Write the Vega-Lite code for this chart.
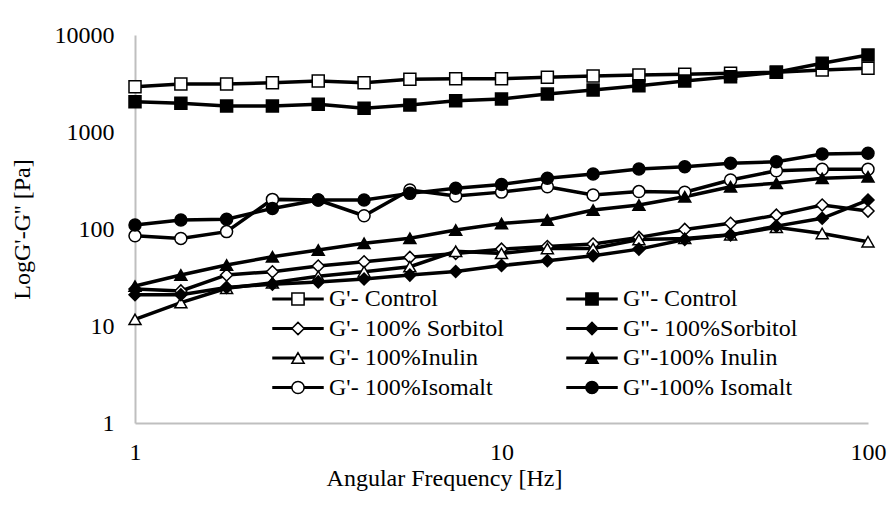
{
  "$schema": "https://vega.github.io/schema/vega-lite/v6.json",
  "width": 733,
  "height": 388,
  "autosize": {"type": "none"},
  "padding": {"left": 135, "top": 35, "right": 25, "bottom": 92},
  "background": "white",
  "config": {
    "view": {"stroke": null},
    "font": "Liberation Serif",
    "axis": {
      "domainColor": "#bfbfbf",
      "domainWidth": 2,
      "ticks": false,
      "grid": false,
      "labelFont": "Liberation Serif",
      "labelFontSize": 24,
      "labelColor": "black",
      "labelFlush": false,
      "labelOverlap": false,
      "labelBound": false,
      "titleFont": "Liberation Serif",
      "titleFontSize": 24,
      "titleFontWeight": "normal",
      "titleColor": "black"
    },
    "legend": {
      "labelFont": "Liberation Serif",
      "labelFontSize": 24,
      "labelColor": "black",
      "labelLimit": 500,
      "padding": 0
    }
  },
  "data": {
    "values": [
      {"f":1,"s":"G'- Control","m":"p","v":2930},{"f":1.334,"s":"G'- Control","m":"p","v":3125},{"f":1.778,"s":"G'- Control","m":"p","v":3125},{"f":2.371,"s":"G'- Control","m":"p","v":3225},{"f":3.162,"s":"G'- Control","m":"p","v":3355},{"f":4.217,"s":"G'- Control","m":"p","v":3225},{"f":5.623,"s":"G'- Control","m":"p","v":3495},{"f":7.499,"s":"G'- Control","m":"p","v":3545},{"f":10,"s":"G'- Control","m":"p","v":3545},{"f":13.34,"s":"G'- Control","m":"p","v":3660},{"f":17.78,"s":"G'- Control","m":"p","v":3780},{"f":23.71,"s":"G'- Control","m":"p","v":3870},{"f":31.62,"s":"G'- Control","m":"p","v":3935},{"f":42.17,"s":"G'- Control","m":"p","v":4030},{"f":56.23,"s":"G'- Control","m":"p","v":4130},{"f":74.99,"s":"G'- Control","m":"p","v":4355},{"f":100,"s":"G'- Control","m":"p","v":4540},
      {"f":1,"s":"G\"- Control","m":"pp","v":2052},{"f":1.334,"s":"G\"- Control","m":"pp","v":1977},{"f":1.778,"s":"G\"- Control","m":"pp","v":1854},{"f":2.371,"s":"G\"- Control","m":"pp","v":1854},{"f":3.162,"s":"G\"- Control","m":"pp","v":1931},{"f":4.217,"s":"G\"- Control","m":"pp","v":1755},{"f":5.623,"s":"G\"- Control","m":"pp","v":1898},{"f":7.499,"s":"G\"- Control","m":"pp","v":2103},{"f":10,"s":"G\"- Control","m":"pp","v":2189},{"f":13.34,"s":"G\"- Control","m":"pp","v":2465},{"f":17.78,"s":"G\"- Control","m":"pp","v":2710},{"f":23.71,"s":"G\"- Control","m":"pp","v":3000},{"f":31.62,"s":"G\"- Control","m":"pp","v":3355},{"f":42.17,"s":"G\"- Control","m":"pp","v":3715},{"f":56.23,"s":"G\"- Control","m":"pp","v":4130},{"f":74.99,"s":"G\"- Control","m":"pp","v":5110},{"f":100,"s":"G\"- Control","m":"pp","v":6220},
      {"f":1,"s":"G'- 100% Sorbitol","m":"p","v":24},{"f":1.334,"s":"G'- 100% Sorbitol","m":"p","v":23},{"f":1.778,"s":"G'- 100% Sorbitol","m":"p","v":33.6},{"f":2.371,"s":"G'- 100% Sorbitol","m":"p","v":36.3},{"f":3.162,"s":"G'- 100% Sorbitol","m":"p","v":41.5},{"f":4.217,"s":"G'- 100% Sorbitol","m":"p","v":46},{"f":5.623,"s":"G'- 100% Sorbitol","m":"p","v":51},{"f":7.499,"s":"G'- 100% Sorbitol","m":"p","v":56},{"f":10,"s":"G'- 100% Sorbitol","m":"p","v":62},{"f":13.34,"s":"G'- 100% Sorbitol","m":"p","v":66},{"f":17.78,"s":"G'- 100% Sorbitol","m":"p","v":70},{"f":23.71,"s":"G'- 100% Sorbitol","m":"p","v":82},{"f":31.62,"s":"G'- 100% Sorbitol","m":"p","v":99},{"f":42.17,"s":"G'- 100% Sorbitol","m":"p","v":114.5},{"f":56.23,"s":"G'- 100% Sorbitol","m":"p","v":139},{"f":74.99,"s":"G'- 100% Sorbitol","m":"p","v":177},{"f":100,"s":"G'- 100% Sorbitol","m":"p","v":153},
      {"f":1,"s":"G\"-  100%Sorbitol","m":"pp","v":21},{"f":1.334,"s":"G\"-  100%Sorbitol","m":"pp","v":21},{"f":1.778,"s":"G\"-  100%Sorbitol","m":"pp","v":25},{"f":2.371,"s":"G\"-  100%Sorbitol","m":"pp","v":27},{"f":3.162,"s":"G\"-  100%Sorbitol","m":"pp","v":28.5},{"f":4.217,"s":"G\"-  100%Sorbitol","m":"pp","v":30.5},{"f":5.623,"s":"G\"-  100%Sorbitol","m":"pp","v":33.5},{"f":7.499,"s":"G\"-  100%Sorbitol","m":"pp","v":36.5},{"f":10,"s":"G\"-  100%Sorbitol","m":"pp","v":42},{"f":13.34,"s":"G\"-  100%Sorbitol","m":"pp","v":47},{"f":17.78,"s":"G\"-  100%Sorbitol","m":"pp","v":53},{"f":23.71,"s":"G\"-  100%Sorbitol","m":"pp","v":62},{"f":31.62,"s":"G\"-  100%Sorbitol","m":"pp","v":78},{"f":42.17,"s":"G\"-  100%Sorbitol","m":"pp","v":87},{"f":56.23,"s":"G\"-  100%Sorbitol","m":"pp","v":107},{"f":74.99,"s":"G\"-  100%Sorbitol","m":"pp","v":129},{"f":100,"s":"G\"-  100%Sorbitol","m":"pp","v":199},
      {"f":1,"s":"G'-  100%Inulin","m":"p","v":11.7},{"f":1.334,"s":"G'-  100%Inulin","m":"p","v":17.4},{"f":1.778,"s":"G'-  100%Inulin","m":"p","v":24.5},{"f":2.371,"s":"G'-  100%Inulin","m":"p","v":27.9},{"f":3.162,"s":"G'-  100%Inulin","m":"p","v":32.6},{"f":4.217,"s":"G'-  100%Inulin","m":"p","v":36.3},{"f":5.623,"s":"G'-  100%Inulin","m":"p","v":40.9},{"f":7.499,"s":"G'-  100%Inulin","m":"p","v":59},{"f":10,"s":"G'-  100%Inulin","m":"p","v":56},{"f":13.34,"s":"G'-  100%Inulin","m":"p","v":63},{"f":17.78,"s":"G'-  100%Inulin","m":"p","v":63},{"f":23.71,"s":"G'-  100%Inulin","m":"p","v":78},{"f":31.62,"s":"G'-  100%Inulin","m":"p","v":80},{"f":42.17,"s":"G'-  100%Inulin","m":"p","v":87},{"f":56.23,"s":"G'-  100%Inulin","m":"p","v":104},{"f":74.99,"s":"G'-  100%Inulin","m":"p","v":90},{"f":100,"s":"G'-  100%Inulin","m":"p","v":74},
      {"f":1,"s":"G\"-100% Inulin","m":"pp","v":25.8},{"f":1.334,"s":"G\"-100% Inulin","m":"pp","v":33.6},{"f":1.778,"s":"G\"-100% Inulin","m":"pp","v":42.5},{"f":2.371,"s":"G\"-100% Inulin","m":"pp","v":51.8},{"f":3.162,"s":"G\"-100% Inulin","m":"pp","v":60.8},{"f":4.217,"s":"G\"-100% Inulin","m":"pp","v":71.3},{"f":5.623,"s":"G\"-100% Inulin","m":"pp","v":80.2},{"f":7.499,"s":"G\"-100% Inulin","m":"pp","v":97.7},{"f":10,"s":"G\"-100% Inulin","m":"pp","v":114},{"f":13.34,"s":"G\"-100% Inulin","m":"pp","v":124},{"f":17.78,"s":"G\"-100% Inulin","m":"pp","v":157},{"f":23.71,"s":"G\"-100% Inulin","m":"pp","v":177},{"f":31.62,"s":"G\"-100% Inulin","m":"pp","v":215},{"f":42.17,"s":"G\"-100% Inulin","m":"pp","v":273},{"f":56.23,"s":"G\"-100% Inulin","m":"pp","v":296},{"f":74.99,"s":"G\"-100% Inulin","m":"pp","v":333},{"f":100,"s":"G\"-100% Inulin","m":"pp","v":346},
      {"f":1,"s":"G'-  100%Isomalt","m":"p","v":85},{"f":1.334,"s":"G'-  100%Isomalt","m":"p","v":80},{"f":1.778,"s":"G'-  100%Isomalt","m":"p","v":94},{"f":2.371,"s":"G'-  100%Isomalt","m":"p","v":202},{"f":3.162,"s":"G'-  100%Isomalt","m":"p","v":199},{"f":4.217,"s":"G'-  100%Isomalt","m":"p","v":137},{"f":5.623,"s":"G'-  100%Isomalt","m":"p","v":252},{"f":7.499,"s":"G'-  100%Isomalt","m":"p","v":219},{"f":10,"s":"G'-  100%Isomalt","m":"p","v":240},{"f":13.34,"s":"G'-  100%Isomalt","m":"p","v":273},{"f":17.78,"s":"G'-  100%Isomalt","m":"p","v":224},{"f":23.71,"s":"G'-  100%Isomalt","m":"p","v":243},{"f":31.62,"s":"G'-  100%Isomalt","m":"p","v":239},{"f":42.17,"s":"G'-  100%Isomalt","m":"p","v":320},{"f":56.23,"s":"G'-  100%Isomalt","m":"p","v":399},{"f":74.99,"s":"G'-  100%Isomalt","m":"p","v":413},{"f":100,"s":"G'-  100%Isomalt","m":"p","v":413},
      {"f":1,"s":"G\"-100% Isomalt","m":"pp","v":110},{"f":1.334,"s":"G\"-100% Isomalt","m":"pp","v":124},{"f":1.778,"s":"G\"-100% Isomalt","m":"pp","v":126},{"f":2.371,"s":"G\"-100% Isomalt","m":"pp","v":163},{"f":3.162,"s":"G\"-100% Isomalt","m":"pp","v":199},{"f":4.217,"s":"G\"-100% Isomalt","m":"pp","v":199},{"f":5.623,"s":"G\"-100% Isomalt","m":"pp","v":233},{"f":7.499,"s":"G\"-100% Isomalt","m":"pp","v":263},{"f":10,"s":"G\"-100% Isomalt","m":"pp","v":288},{"f":13.34,"s":"G\"-100% Isomalt","m":"pp","v":333},{"f":17.78,"s":"G\"-100% Isomalt","m":"pp","v":369},{"f":23.71,"s":"G\"-100% Isomalt","m":"pp","v":415},{"f":31.62,"s":"G\"-100% Isomalt","m":"pp","v":439},{"f":42.17,"s":"G\"-100% Isomalt","m":"pp","v":476},{"f":56.23,"s":"G\"-100% Isomalt","m":"pp","v":494},{"f":74.99,"s":"G\"-100% Isomalt","m":"pp","v":593},{"f":100,"s":"G\"-100% Isomalt","m":"pp","v":603}
    ]
  },
  "encoding": {
    "x": {
      "field": "f",
      "type": "quantitative",
      "scale": {"type": "log", "domain": [1, 100], "nice": false},
      "axis": {
        "values": [1, 10, 100],
        "format": "d",
        "title": "Angular Frequency [Hz]",
        "labelPadding": 17,
        "titlePadding": 2,
        "titleX": 309
      }
    },
    "y": {
      "field": "v",
      "type": "quantitative",
      "scale": {"type": "log", "domain": [1, 10000], "nice": false},
      "axis": {
        "values": [1, 10, 100, 1000, 10000],
        "format": "d",
        "title": "LogG'-G'' [Pa]",
        "labelPadding": 21,
        "titlePadding": 20
      }
    }
  },
  "layer": [
    {
      "mark": {"type": "line", "color": "black", "strokeWidth": 3.5},
      "encoding": {"detail": {"field": "s", "type": "nominal"}}
    },
    {
      "transform": [{"filter": {"field": "m", "equal": "p"}}],
      "mark": {"type": "point", "filled": true, "fill": "white", "stroke": "black", "strokeWidth": 1.5, "size": 144, "opacity": 1},
      "encoding": {
        "shape": {
          "field": "s",
          "type": "nominal",
          "scale": {
            "domain": ["G'- Control", "G'- 100% Sorbitol", "G'-  100%Inulin", "G'-  100%Isomalt"],
            "range": ["square", "diamond", "triangle-up", "circle"]
          },
          "legend": null
        }
      }
    },
    {
      "transform": [{"filter": {"field": "m", "equal": "pp"}}],
      "mark": {"type": "point", "filled": true, "fill": "black", "stroke": "black", "strokeWidth": 1.5, "size": 144, "opacity": 1},
      "encoding": {
        "shape": {
          "field": "s",
          "type": "nominal",
          "scale": {
            "domain": ["G\"- Control", "G\"-  100%Sorbitol", "G\"-100% Inulin", "G\"-100% Isomalt"],
            "range": ["square", "diamond", "triangle-up", "circle"]
          },
          "legend": null
        }
      }
    },
    {
      "transform": [{"filter": {"field": "m", "equal": "p"}}],
      "mark": {"type": "point", "filled": true, "fill": "white", "stroke": "black", "strokeWidth": 1.5, "size": 144, "opacity": 0},
      "encoding": {
        "shape": {
          "field": "s",
          "type": "nominal",
          "scale": {
            "domain": ["G'- Control", "G'- 100% Sorbitol", "G'-  100%Inulin", "G'-  100%Isomalt"],
            "range": [
              "M-4.08,-0.13H-1V0.13H-4.08ZM1,-0.13H4.08V0.13H1ZM-1,-1H1V1H-1Z",
              "M-4.08,-0.13H-1V0.13H-4.08ZM1,-0.13H4.08V0.13H1ZM-1,0L0,-1L1,0L0,1Z",
              "M-4.08,-0.13H-0.55V0.13H-4.08ZM0.55,-0.13H4.08V0.13H0.55ZM0,-0.866L-1,0.866L1,0.866Z",
              "M-4.08,-0.13H-1V0.13H-4.08ZM1,-0.13H4.08V0.13H1ZM-1,0A1,1,0,1,1,1,0A1,1,0,1,1,-1,0Z"
            ]
          },
          "legend": {
            "orient": "none",
            "legendX": 151,
            "legendY": 252,
            "title": null,
            "labelFont": "Liberation Serif",
            "labelFontSize": 24,
            "labelColor": "black",
            "symbolSize": 150,
            "labelOffset": 19,
            "rowPadding": 5.5,
            "encode": {
              "symbols": {
                "fill": {"value": "white"},
                "stroke": {"value": "black"},
                "strokeWidth": {"value": 1.5},
                "opacity": {"value": 1}
              }
            }
          }
        }
      }
    },
    {
      "transform": [{"filter": {"field": "m", "equal": "pp"}}],
      "mark": {"type": "point", "filled": true, "fill": "black", "stroke": "black", "strokeWidth": 1.5, "size": 144, "opacity": 0},
      "encoding": {
        "shape": {
          "field": "s",
          "type": "nominal",
          "scale": {
            "domain": ["G\"- Control", "G\"-  100%Sorbitol", "G\"-100% Inulin", "G\"-100% Isomalt"],
            "range": [
              "M-4.08,-0.13H-1V0.13H-4.08ZM1,-0.13H4.08V0.13H1ZM-1,-1H1V1H-1Z",
              "M-4.08,-0.13H-1V0.13H-4.08ZM1,-0.13H4.08V0.13H1ZM-1,0L0,-1L1,0L0,1Z",
              "M-4.08,-0.13H-0.55V0.13H-4.08ZM0.55,-0.13H4.08V0.13H0.55ZM0,-0.866L-1,0.866L1,0.866Z",
              "M-4.08,-0.13H-1V0.13H-4.08ZM1,-0.13H4.08V0.13H1ZM-1,0A1,1,0,1,1,1,0A1,1,0,1,1,-1,0Z"
            ]
          },
          "legend": {
            "orient": "none",
            "legendX": 445,
            "legendY": 252,
            "title": null,
            "labelFont": "Liberation Serif",
            "labelFontSize": 24,
            "labelColor": "black",
            "symbolSize": 150,
            "labelOffset": 19,
            "rowPadding": 5.5,
            "encode": {
              "symbols": {
                "fill": {"value": "black"},
                "stroke": {"value": "black"},
                "strokeWidth": {"value": 1.5},
                "opacity": {"value": 1}
              }
            }
          }
        }
      }
    }
  ],
  "resolve": {"scale": {"shape": "independent"}, "legend": {"shape": "independent"}}
}
